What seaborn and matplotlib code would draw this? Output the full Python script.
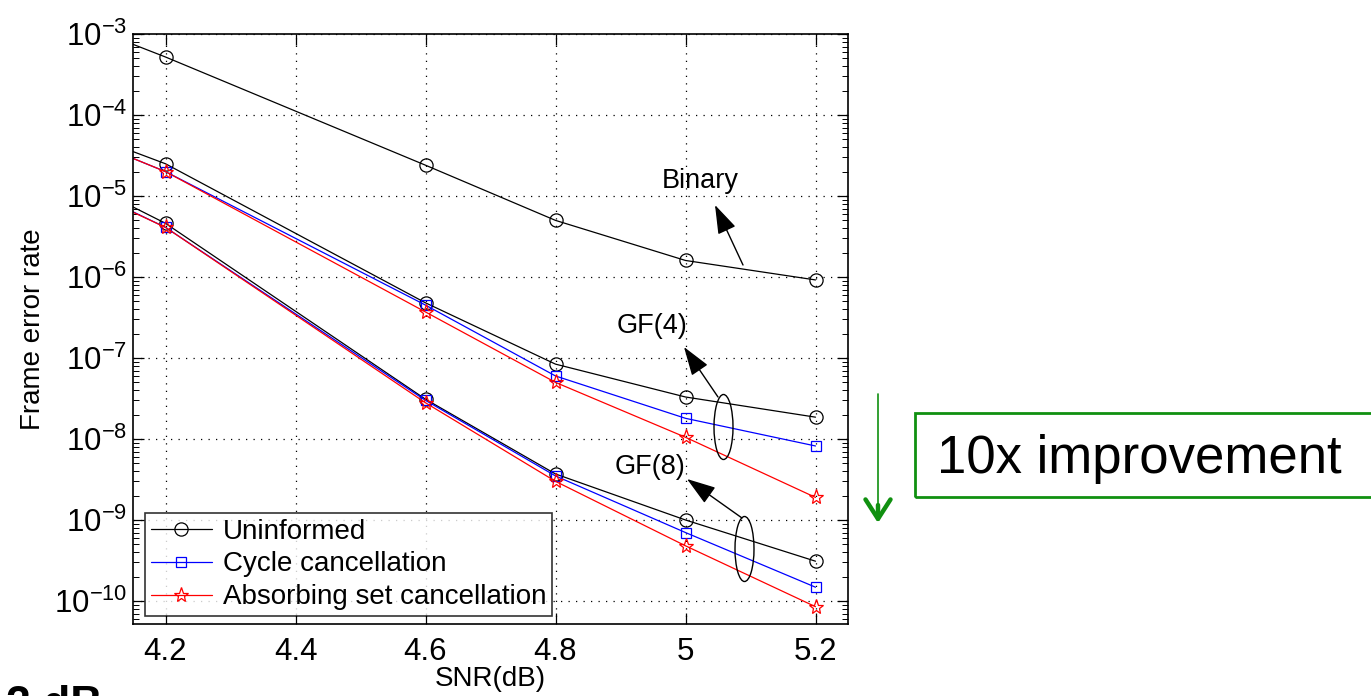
import matplotlib.pyplot as plt
import matplotlib.ticker as ticker
from matplotlib.patches import Ellipse, Rectangle
import pandas as pd
import seaborn as sns

# values (4.0 point lies just left of the visible x-range)
snr = [4.0, 4.2, 4.6, 4.8, 5.0, 5.2]

binary_uninformed = [2.2e-3, 5.2e-4, 2.4e-5, 5.0e-6, 1.6e-6, 9.2e-7]

gf4_uninformed = [1.0e-4, 2.5e-5, 4.8e-7, 8.4e-8, 3.3e-8, 1.86e-8]
gf4_cycle = [9.0e-5, 2.0e-5, 4.5e-7, 6.0e-8, 1.8e-8, 8.2e-9]
gf4_absorbing = [9.0e-5, 2.0e-5, 3.7e-7, 5.0e-8, 1.05e-8, 1.9e-9]

gf8_uninformed = [2.95e-5, 4.6e-6, 3.1e-8, 3.7e-9, 1.0e-9, 3.1e-10]
gf8_cycle = [2.4e-5, 4.1e-6, 3.0e-8, 3.5e-9, 7.0e-10, 1.48e-10]
gf8_absorbing = [2.3e-5, 4.1e-6, 2.8e-8, 3.0e-9, 4.8e-10, 8.5e-11]

methods = ['Uninformed', 'Cycle cancellation', 'Absorbing set cancellation']
xticks = [4.2, 4.4, 4.6, 4.8, 5.0, 5.2]
xticklabels = ['4.2', '4.4', '4.6', '4.8', '5', '5.2']

series = [
    ('Binary', 'Uninformed', binary_uninformed),
    ('GF(4)', 'Uninformed', gf4_uninformed),
    ('GF(4)', 'Cycle cancellation', gf4_cycle),
    ('GF(4)', 'Absorbing set cancellation', gf4_absorbing),
    ('GF(8)', 'Uninformed', gf8_uninformed),
    ('GF(8)', 'Cycle cancellation', gf8_cycle),
    ('GF(8)', 'Absorbing set cancellation', gf8_absorbing),
]

rows = []
for code, method, vals in series:
    for x, y in zip(snr, vals):
        rows.append({'code': code, 'method': method, 'snr': x, 'fer': y})
data = pd.DataFrame(rows)

sns.set_theme(style='white')
plt.rcParams['font.family'] = ['Liberation Sans', 'DejaVu Sans']
plt.rcParams['text.color'] = 'black'
plt.rcParams['axes.labelcolor'] = 'black'
plt.rcParams['mathtext.fontset'] = 'custom'
plt.rcParams['mathtext.rm'] = 'Liberation Sans'
plt.rcParams['mathtext.it'] = 'Liberation Sans:italic'
plt.rcParams['mathtext.bf'] = 'Liberation Sans:bold'

colors = {'Uninformed': 'black', 'Cycle cancellation': '#0000ff',
          'Absorbing set cancellation': '#ff0000'}
markers = {'Uninformed': 'o', 'Cycle cancellation': 's',
           'Absorbing set cancellation': '*'}
msizes = {'Uninformed': 9.5, 'Cycle cancellation': 7.5,
          'Absorbing set cancellation': 11}

W, H = 1371, 696
fig = plt.figure(figsize=(W / 100, H / 100), dpi=100)
ax = fig.add_axes([133 / W, 1 - 624 / H, 715 / W, 590 / H])


def px(x, y):
    return (x / W, 1 - y / H)


handles = {}
for code, method, vals in series:
    sub = data[(data['code'] == code) & (data['method'] == method)]
    c = colors[method]
    sns.lineplot(data=sub, x='snr', y='fer', ax=ax, color=c,
                 marker=markers[method], markersize=msizes[method],
                 markerfacecolor='none', markeredgecolor=c,
                 markeredgewidth=0.9, linewidth=0.9, sort=False,
                 estimator=None, legend=False)
    line = ax.lines[-1]
    line.set_markeredgecolor(c)
    line.set_markerfacecolor('none')
    if method not in handles:
        handles[method] = line

ax.set_yscale('log')
ax.set_xlim(4.15, 5.25)
ax.set_ylim(10 ** -10.284, 1e-3)
ax.xaxis.set_major_locator(ticker.FixedLocator(xticks))
ax.set_xticklabels(xticklabels)
ax.yaxis.set_major_locator(ticker.LogLocator(base=10, numticks=20))
ax.yaxis.set_minor_locator(ticker.LogLocator(base=10, subs=range(2, 10), numticks=20))
ax.yaxis.set_minor_formatter(ticker.NullFormatter())

ax.grid(True, which='major', color='black', linestyle=(0, (1, 5)), linewidth=0.9)
for s in ax.spines.values():
    s.set_color('black')
    s.set_linewidth(1.2)
ax.tick_params(which='both', direction='in', top=True, right=True,
               bottom=True, left=True, colors='black', labelsize=22.5)
ax.tick_params(which='major', length=8, width=0.9)
ax.tick_params(which='minor', length=4, width=0.7)
ax.tick_params(axis='y', pad=4)
ax.tick_params(axis='x', pad=9)

ax.set_xlabel('SNR(dB)', fontsize=20, labelpad=0)
ax.set_ylabel('Frame error rate', fontsize=20, labelpad=6)

leg = ax.legend([handles[m] for m in methods], methods, loc='lower left',
                bbox_to_anchor=(0.017, 0.0136), borderaxespad=0,
                fontsize=20, frameon=True, fancybox=False, handlelength=2.2,
                handletextpad=0.4, borderpad=0.2, labelspacing=0.25)
leg.get_frame().set_edgecolor('black')
leg.get_frame().set_linewidth(1.2)

# curve family annotations
arrow_kw = dict(arrowstyle='-|>,head_length=0.9,head_width=0.3', color='black',
                lw=1.0, shrinkA=0, shrinkB=0, mutation_scale=20)
fig.text(*px(700, 181), 'Binary', fontsize=19.5, ha='center', va='center')
ax.annotate('', xy=px(715, 205), xytext=px(743, 265),
            xycoords='figure fraction', textcoords='figure fraction',
            arrowprops=arrow_kw)

fig.text(*px(652, 326), 'GF(4)', fontsize=19.5, ha='center', va='center')
ax.annotate('', xy=px(684, 347), xytext=px(718, 397),
            xycoords='figure fraction', textcoords='figure fraction',
            arrowprops=arrow_kw)
fig.add_artist(Ellipse(px(723.5, 427), 19 / W, 65 / H, transform=fig.transFigure,
                       fill=False, edgecolor='black', lw=1.0))

fig.text(*px(650, 467), 'GF(8)', fontsize=19.5, ha='center', va='center')
ax.annotate('', xy=px(687, 479), xytext=px(742, 518),
            xycoords='figure fraction', textcoords='figure fraction',
            arrowprops=arrow_kw)
fig.add_artist(Ellipse(px(744.5, 549), 19 / W, 65 / H, transform=fig.transFigure,
                       fill=False, edgecolor='black', lw=1.0))

# slide overlay: green arrow and boxed note
green = '#109010'
fig.add_artist(plt.Line2D([878 / W, 878 / W], [1 - 394 / H, 1 - 520 / H],
                          transform=fig.transFigure, color=green, lw=1.2))
ax.annotate('', xy=px(878, 523), xytext=px(878, 505),
            xycoords='figure fraction', textcoords='figure fraction',
            arrowprops=dict(arrowstyle='->,head_length=0.7,head_width=0.45',
                            color=green, lw=3.2, shrinkA=0, shrinkB=0,
                            mutation_scale=20))
fig.add_artist(Rectangle(px(915, 497), 500 / W, 84 / H, transform=fig.transFigure,
                         fill=False, edgecolor=green, lw=2.0))
fig.text(*px(937, 459), '10x improvement', fontsize=38, ha='left', va='center')

# slide caption, cut off by the bottom edge as in the source
fig.text(*px(6, 685), '2 dB', fontsize=32, fontweight='bold', ha='left', va='top')

plt.savefig('out.png', dpi=100)
